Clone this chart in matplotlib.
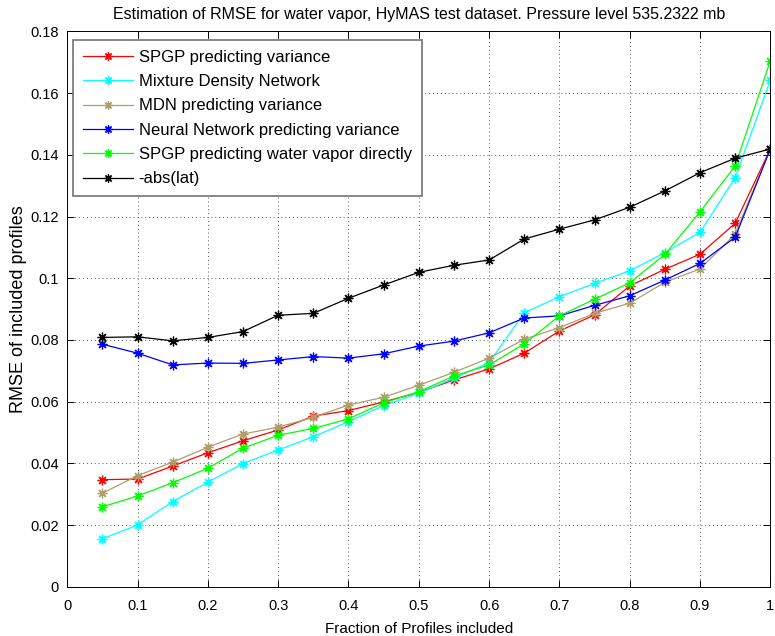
import matplotlib
matplotlib.use("Agg")
import matplotlib.pyplot as plt

plt.rcParams['font.family'] = ['Liberation Sans', 'DejaVu Sans']

fraction = [0.05, 0.10, 0.15, 0.20, 0.25, 0.30, 0.35, 0.40, 0.45, 0.50,
            0.55, 0.60, 0.65, 0.70, 0.75, 0.80, 0.85, 0.90, 0.95, 1.00]

spgp_var = [0.0347, 0.0349, 0.0391, 0.0434, 0.0473, 0.0508, 0.0553, 0.0571, 0.0599, 0.0630,
            0.0670, 0.0706, 0.0757, 0.0829, 0.0881, 0.0975, 0.1029, 0.1078, 0.1178, 0.1419]
mdn = [0.0155, 0.0200, 0.0276, 0.0339, 0.0399, 0.0443, 0.0486, 0.0535, 0.0587, 0.0627,
       0.0676, 0.0726, 0.0888, 0.0940, 0.0983, 0.1024, 0.1083, 0.1149, 0.1326, 0.1642]
mdn_var = [0.0303, 0.0360, 0.0404, 0.0452, 0.0495, 0.0517, 0.0549, 0.0589, 0.0614, 0.0653,
           0.0695, 0.0741, 0.0802, 0.0840, 0.0886, 0.0919, 0.0987, 0.1030, 0.1143, 0.1419]
nn_var = [0.0786, 0.0757, 0.0719, 0.0725, 0.0724, 0.0735, 0.0746, 0.0741, 0.0755, 0.0780,
          0.0796, 0.0823, 0.0871, 0.0878, 0.0912, 0.0943, 0.0994, 0.1048, 0.1133, 0.1419]
spgp_direct = [0.0259, 0.0294, 0.0337, 0.0384, 0.0449, 0.0491, 0.0513, 0.0544, 0.0596, 0.0632,
               0.0683, 0.0719, 0.0787, 0.0878, 0.0932, 0.0985, 0.1077, 0.1215, 0.1364, 0.1705]
abs_lat = [0.0808, 0.0810, 0.0797, 0.0808, 0.0827, 0.0880, 0.0886, 0.0935, 0.0978, 0.1019,
           0.1042, 0.1059, 0.1127, 0.1159, 0.1189, 0.1230, 0.1283, 0.1342, 0.1389, 0.1419]

series = [
    ("SPGP predicting variance", spgp_var, (1.0, 0.0, 0.0)),
    ("Mixture Density Network", mdn, (0.0, 1.0, 1.0)),
    ("MDN predicting variance", mdn_var, (0.68, 0.62, 0.42)),
    ("Neural Network predicting variance", nn_var, (0.0, 0.0, 1.0)),
    ("SPGP predicting water vapor directly", spgp_direct, (0.0, 1.0, 0.0)),
    ("-abs(lat)", abs_lat, (0.0, 0.0, 0.0)),
]

x_ticks = [0, 0.1, 0.2, 0.3, 0.4, 0.5, 0.6, 0.7, 0.8, 0.9, 1]
x_labels = ["0", "0.1", "0.2", "0.3", "0.4", "0.5", "0.6", "0.7", "0.8", "0.9", "1"]
y_ticks = [0, 0.02, 0.04, 0.06, 0.08, 0.1, 0.12, 0.14, 0.16, 0.18]
y_labels = ["0", "0.02", "0.04", "0.06", "0.08", "0.1", "0.12", "0.14", "0.16", "0.18"]

# eight-armed asterisk, like the classic '*' plot symbol
asterisk = (8, 2, 0)

fig = plt.figure(figsize=(7.75, 6.36), dpi=100)
ax = fig.add_axes([0.0867, 0.0775, 0.9073, 0.8731])

for label, vals, color in series:
    ax.plot(fraction, vals, color=color, lw=0.9, marker=asterisk, markersize=7,
            markeredgewidth=0.9, label=label)

ax.set_xlim(0, 1)
ax.set_ylim(0, 0.18)
ax.set_xticks(x_ticks)
ax.set_xticklabels(x_labels)
ax.set_yticks(y_ticks)
ax.set_yticklabels(y_labels)
ax.tick_params(direction='in', length=5, labelsize=10.5, top=True, right=True,
               width=0.7)
ax.tick_params(axis='x', pad=9)
ax.tick_params(axis='y', pad=6)
ax.grid(True, linestyle=(0, (1, 3)), color='0.35', lw=0.7)
for sp in ax.spines.values():
    sp.set_linewidth(0.7)

ax.set_title("Estimation of RMSE for water vapor, HyMAS test dataset. Pressure level 535.2322 mb",
             fontsize=11.5, pad=9)
ax.set_xlabel("Fraction of Profiles included", fontsize=11, labelpad=6)
ax.set_ylabel("RMSE of included profiles", fontsize=13, labelpad=2)

leg = ax.legend(loc='upper left', bbox_to_anchor=(0.008, 0.985), borderaxespad=0,
                fontsize=12, frameon=True, fancybox=False, numpoints=1,
                handlelength=3.0, handletextpad=0.35, labelspacing=0.56,
                borderpad=0.6, markerscale=0.85)
leg.get_frame().set_edgecolor('0.45')
leg.get_frame().set_linewidth(1.2)
leg.get_frame().set_alpha(1)

fig.savefig("out.png", dpi=100)
